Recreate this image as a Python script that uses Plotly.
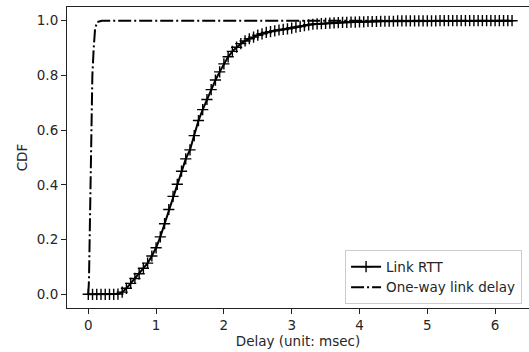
import plotly.graph_objects as go

rtt_x = [0, 0.0625, 0.125, 0.1875, 0.25, 0.3125, 0.375, 0.4375, 0.5, 0.5625,
         0.625, 0.6875, 0.75, 0.8125, 0.875, 0.9375, 1.0, 1.0625, 1.125, 1.1875,
         1.25, 1.3125, 1.375, 1.4375, 1.5, 1.5625, 1.625, 1.6875, 1.75, 1.8125,
         1.875, 1.9375, 2.0, 2.0625, 2.125, 2.1875, 2.25, 2.3125, 2.375, 2.4375,
         2.5, 2.5625, 2.625, 2.6875, 2.75, 2.8125, 2.875, 2.9375, 3.0, 3.0625,
         3.125, 3.1875, 3.25, 3.3125, 3.375, 3.4375, 3.5, 3.5625, 3.625, 3.6875,
         3.75, 3.8125, 3.875, 3.9375, 4.0, 4.0625, 4.125, 4.1875, 4.25, 4.3125,
         4.375, 4.4375, 4.5, 4.5625, 4.625, 4.6875, 4.75, 4.8125, 4.875, 4.9375,
         5.0, 5.0625, 5.125, 5.1875, 5.25, 5.3125, 5.375, 5.4375, 5.5, 5.5625,
         5.625, 5.6875, 5.75, 5.8125, 5.875, 5.9375, 6.0, 6.0625, 6.125, 6.1875,
         6.25]
rtt_cdf = [0, 0, 0, 0, 0, 0, 0, 0.001, 0.008, 0.022,
           0.040, 0.058, 0.075, 0.095, 0.114, 0.140, 0.170, 0.210, 0.258, 0.310,
           0.358, 0.402, 0.450, 0.495, 0.528, 0.580, 0.635, 0.675, 0.712, 0.748,
           0.783, 0.813, 0.842, 0.868, 0.888, 0.903, 0.916, 0.926, 0.934, 0.940,
           0.947, 0.952, 0.957, 0.960, 0.963, 0.966, 0.968, 0.970, 0.973, 0.976,
           0.979, 0.982, 0.985, 0.987, 0.988, 0.989, 0.990, 0.991, 0.992, 0.993,
           0.994, 0.994, 0.995, 0.995, 0.996, 0.996, 0.997, 0.997, 0.997, 0.998,
           0.998, 0.998, 0.998, 0.999, 0.999, 0.999, 0.999, 0.999, 0.999, 0.999,
           0.999, 0.999, 0.999, 1.0, 1.0, 1.0, 1.0, 1.0, 1.0, 1.0,
           1.0, 1.0, 1.0, 1.0, 1.0, 1.0, 1.0, 1.0, 1.0, 1.0,
           1.0]

oneway_x = [0, 0.01, 0.02, 0.03, 0.045, 0.06, 0.08, 0.1, 0.13, 0.2, 3.0, 6.2]
oneway_cdf = [0, 0.05, 0.2, 0.4, 0.6, 0.8, 0.9, 0.97, 0.995, 1.0, 1.0, 1.0]

x_ticks = [0, 1, 2, 3, 4, 5, 6]
y_ticks = [0.0, 0.2, 0.4, 0.6, 0.8, 1.0]
y_tick_text = ["0.0", "0.2", "0.4", "0.6", "0.8", "1.0"]

FONT = "DejaVu Sans"
TXT = "#262626"
FS = 13.5

fig = go.Figure()
fig.add_trace(go.Scatter(
    x=rtt_x, y=rtt_cdf, mode="lines+markers", name="Link RTT",
    line=dict(color="black", width=2),
    marker=dict(symbol="cross-thin", size=8, line=dict(color="black", width=1.4)),
))
fig.add_trace(go.Scatter(
    x=oneway_x, y=oneway_cdf, mode="lines", name="One-way link delay",
    line=dict(color="black", width=2, dash="13px,3px,2px,3px"),
))

axis_common = dict(
    showgrid=False, zeroline=False, showline=True, linecolor="#222", linewidth=1.1,
    ticks="outside", ticklen=5, tickwidth=1.1, tickcolor="#222", automargin=False,
    tickfont=dict(family=FONT, size=FS, color=TXT),
)
fig.update_xaxes(range=[-0.314, 6.50], tickvals=x_ticks, mirror=True,
                 title=dict(text="Delay (unit: msec)", font=dict(family=FONT, size=FS, color=TXT), standoff=3),
                 **axis_common)
fig.update_yaxes(range=[-0.05, 1.05], tickvals=y_ticks, ticktext=y_tick_text,
                 title=dict(text="CDF", font=dict(family=FONT, size=FS, color=TXT), standoff=6),
                 **axis_common)

fig.update_layout(
    width=529, height=352,
    margin=dict(l=67, r=0, t=7, b=44, autoexpand=False),
    paper_bgcolor="white", plot_bgcolor="white",
    showlegend=True,
    legend=dict(x=0.985, y=0.012, xanchor="right", yanchor="bottom",
                bgcolor="white", bordercolor="#cccccc", borderwidth=1,
                font=dict(family=FONT, size=FS, color=TXT),
                tracegroupgap=0, itemwidth=30),
)

fig.write_html("out.html", config={"displayModeBar": False},
               post_script="document.body.style.margin='0';document.body.style.overflow='hidden';")
